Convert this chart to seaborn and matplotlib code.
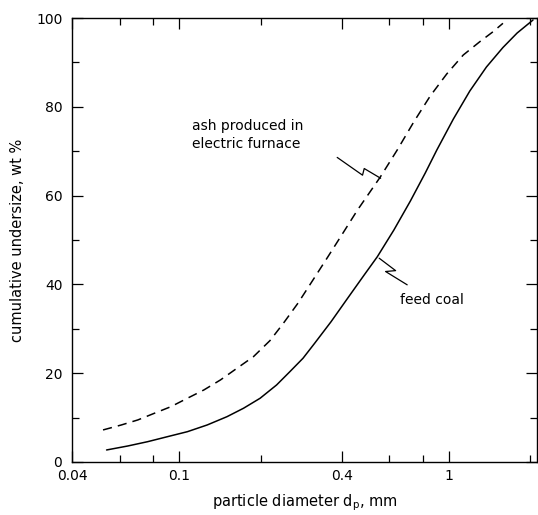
import numpy as np
import pandas as pd
import matplotlib
matplotlib.use("Agg")
import matplotlib.pyplot as plt
from matplotlib.ticker import FixedLocator, FixedFormatter, NullFormatter
import seaborn as sns

# ---- data ----
feed_x = [0.0537, 0.0644, 0.0763, 0.0904, 0.1071, 0.1268, 0.1502, 0.173, 0.1993,
          0.2294, 0.257, 0.2875, 0.3175, 0.3654, 0.4208, 0.4848, 0.5425, 0.6248,
          0.7193, 0.8168, 0.9016, 1.0384, 1.195, 1.377, 1.586, 1.79, 2.05]
feed_y = [2.70, 3.60, 4.57, 5.70, 6.82, 8.33, 10.2, 12.1, 14.35,
          17.34, 20.34, 23.36, 26.73, 31.6, 36.87, 42.12, 46.24, 52.25,
          58.78, 65.09, 70.27, 77.25, 83.56, 88.96, 93.36, 96.62, 99.55]

ash_x = [0.0521, 0.0609, 0.0701, 0.0808, 0.093, 0.1071, 0.1233, 0.142, 0.1635,
         0.1883, 0.217, 0.2428, 0.2757, 0.313, 0.3552, 0.4034, 0.458, 0.5563,
         0.6428, 0.7403, 0.852, 0.981, 1.130, 1.301, 1.457, 1.586]
ash_y = [7.21, 8.33, 9.46, 10.97, 12.45, 14.35, 16.22, 18.47, 21.1,
         23.72, 27.36, 31.19, 35.81, 40.99, 46.17, 51.46, 56.76, 64.19,
         70.27, 76.58, 82.43, 87.39, 91.67, 94.66, 96.91, 98.81]

x_major = [0.04, 0.1, 0.4, 1]
x_major_labels = ["0.04", "0.1", "0.4", "1"]
x_minor = [0.06, 0.08, 0.2, 0.6, 0.8, 2]
y_major = [0, 20, 40, 60, 80, 100]
y_minor = [10, 30, 50, 70, 90]

df_feed = pd.DataFrame({"d": feed_x, "u": feed_y})
df_ash = pd.DataFrame({"d": ash_x, "u": ash_y})

sns.set_theme(style="ticks")
plt.rcParams["font.family"] = ["DejaVu Sans"]
plt.rcParams["mathtext.default"] = "regular"

fig = plt.figure(figsize=(5.38, 5.15), dpi=100)
ax = fig.add_axes([0.134, 0.103, 0.864, 0.862])

sns.lineplot(data=df_feed, x="d", y="u", ax=ax, color="black", lw=1.1,
             sort=False, estimator=None)
sns.lineplot(data=df_ash, x="d", y="u", ax=ax, color="black", lw=1.1,
             sort=False, estimator=None, linestyle=(0, (6, 4)))

ax.set_xscale("log")
ax.set_xlim(0.04, 2.12)
ax.set_ylim(0, 100)

ax.xaxis.set_major_locator(FixedLocator(x_major))
ax.xaxis.set_major_formatter(FixedFormatter(x_major_labels))
ax.xaxis.set_minor_locator(FixedLocator(x_minor))
ax.xaxis.set_minor_formatter(NullFormatter())
ax.yaxis.set_major_locator(FixedLocator(y_major))
ax.yaxis.set_minor_locator(FixedLocator(y_minor))

ax.tick_params(which="both", direction="in", top=True, right=True,
               color="black", width=0.9, labelsize=10, labelcolor="black")
ax.tick_params(which="major", length=8, pad=5)
ax.tick_params(which="minor", length=5)
ax.tick_params(axis="y", which="major", pad=7)

for s in ax.spines.values():
    s.set_visible(True)
    s.set_color("black")
    s.set_linewidth(1.0)

ax.set_xlabel("particle diameter d$_{p}$, mm", fontsize=10.5, color="black", labelpad=7)
ax.set_ylabel("cumulative undersize, wt %", fontsize=10.5, color="black", labelpad=8)

# annotations
ax.text(0.111, 73.6, "ash produced in\nelectric furnace", fontsize=10,
        ha="left", va="center", linespacing=1.35, color="black")
ax.plot([0.385, 0.478, 0.485, 0.558], [68.6, 64.6, 66.1, 63.9],
        color="black", lw=0.9)

ax.text(0.66, 36.5, "feed coal", fontsize=10, ha="left", va="center", color="black")
ax.plot([0.700, 0.582, 0.634, 0.551], [39.9, 42.9, 43.1, 45.9],
        color="black", lw=0.9)

fig.savefig("out.png", dpi=100)
